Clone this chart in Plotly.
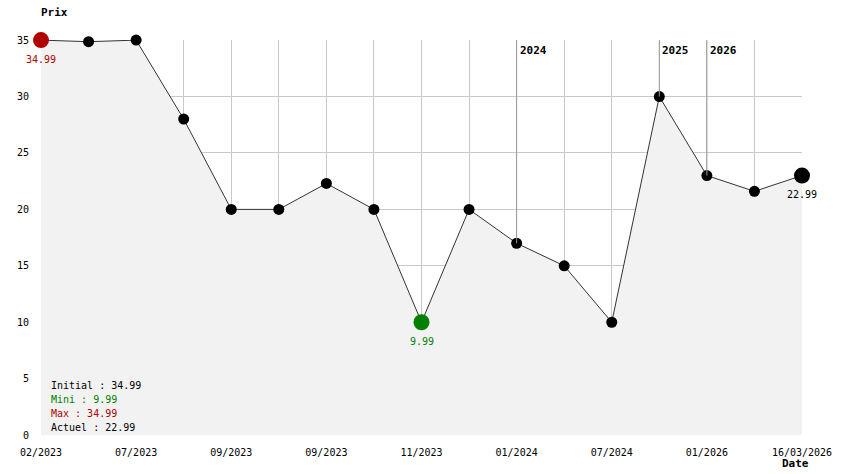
import plotly.graph_objects as go

prices = [34.99, 34.85, 34.99, 27.99, 19.99, 19.99, 22.29, 19.99, 9.99, 19.99,
          16.99, 14.99, 9.99, 29.99, 22.99, 21.59, 22.99]
tick_labels = ["02/2023", "", "07/2023", "", "09/2023", "", "09/2023", "", "11/2023", "",
               "01/2024", "", "07/2024", "", "01/2026", "", "16/03/2026"]
year_marks = [(10, "2024"), (13, "2025"), (14, "2026")]
summary = [("Initial : 34.99", "#000000"), ("Mini : 9.99", "#008000"),
           ("Max : 34.99", "#b00000"), ("Actuel : 22.99", "#000000")]

x = list(range(len(prices)))
FONT = "DejaVu Sans Mono"

sizes = [11] * len(prices)
colors = ["#000000"] * len(prices)
sizes[0] = 16; colors[0] = "#b00000"
sizes[8] = 16; colors[8] = "#008000"
sizes[-1] = 16; colors[-1] = "#000000"

fig = go.Figure()
fig.add_trace(go.Scatter(
    x=x, y=prices, mode="lines", fill="tozeroy", fillcolor="#f2f2f2",
    line=dict(color="#333333", width=1), hoverinfo="skip", cliponaxis=False))

for xi, lab in year_marks:
    fig.add_shape(type="line", x0=xi, x1=xi, y0=prices[xi], y1=35, xref="x", yref="y",
                  line=dict(color="#999999", width=1))
    fig.add_annotation(x=xi, y=35, text="<b>" + lab + "</b>", xref="x", yref="y",
                       xanchor="left", yanchor="top", showarrow=False, xshift=1, yshift=-2,
                       font=dict(family=FONT, size=11, color="#000000"))

fig.add_trace(go.Scatter(
    x=x, y=prices, mode="markers",
    marker=dict(size=sizes, color=colors, opacity=1, line=dict(width=0)),
    cliponaxis=False, hoverinfo="skip"))

fig.add_annotation(x=0, y=prices[0], text="34.99", showarrow=False, yshift=-19,
                   font=dict(family=FONT, size=10, color="#b00000"))
fig.add_annotation(x=8, y=prices[8], text="9.99", showarrow=False, yshift=-19,
                   font=dict(family=FONT, size=10, color="#008000"))
fig.add_annotation(x=16, y=prices[16], text="22.99", showarrow=False, yshift=-19,
                   font=dict(family=FONT, size=10, color="#000000"))

for i, (t, c) in enumerate(summary):
    fig.add_annotation(xref="paper", yref="paper", x=0.01, y=0.125 - i * 0.0355,
                       text=t, showarrow=False, xanchor="left", yanchor="middle",
                       font=dict(family=FONT, size=10, color=c))

fig.add_annotation(xref="paper", yref="paper", x=-0.002, y=1.0, yshift=28, text="<b>Prix</b>",
                   showarrow=False, xanchor="left", yanchor="middle",
                   font=dict(family=FONT, size=11, color="#000000"))
fig.add_annotation(xref="paper", yref="paper", x=1.0, y=0, yshift=-28, xshift=-7, text="<b>Date</b>",
                   showarrow=False, xanchor="center", yanchor="middle",
                   font=dict(family=FONT, size=11, color="#000000"))

fig.update_layout(
    width=844, height=474, margin=dict(l=41, r=37, t=40, b=39),
    paper_bgcolor="white", plot_bgcolor="white", showlegend=False,
    font=dict(family=FONT, size=10, color="#000000"),
    xaxis=dict(range=[0, 16], tickvals=x, ticktext=tick_labels, showgrid=True,
               gridcolor="#c8c8c8", gridwidth=1, zeroline=False, showline=False,
               ticks="outside", ticklen=8, tickcolor="rgba(0,0,0,0)", tickangle=0,
               tickfont=dict(family=FONT, size=10)),
    yaxis=dict(range=[0, 35], tickvals=[0, 5, 10, 15, 20, 25, 30, 35], showgrid=True,
               gridcolor="#c8c8c8", gridwidth=1, zeroline=False, showline=False,
               ticks="outside", ticklen=9, tickcolor="rgba(0,0,0,0)",
               tickfont=dict(family=FONT, size=10)),
)

fig.write_html("out.html", config={"displayModeBar": False},
               post_script="document.body.style.margin='0';")
